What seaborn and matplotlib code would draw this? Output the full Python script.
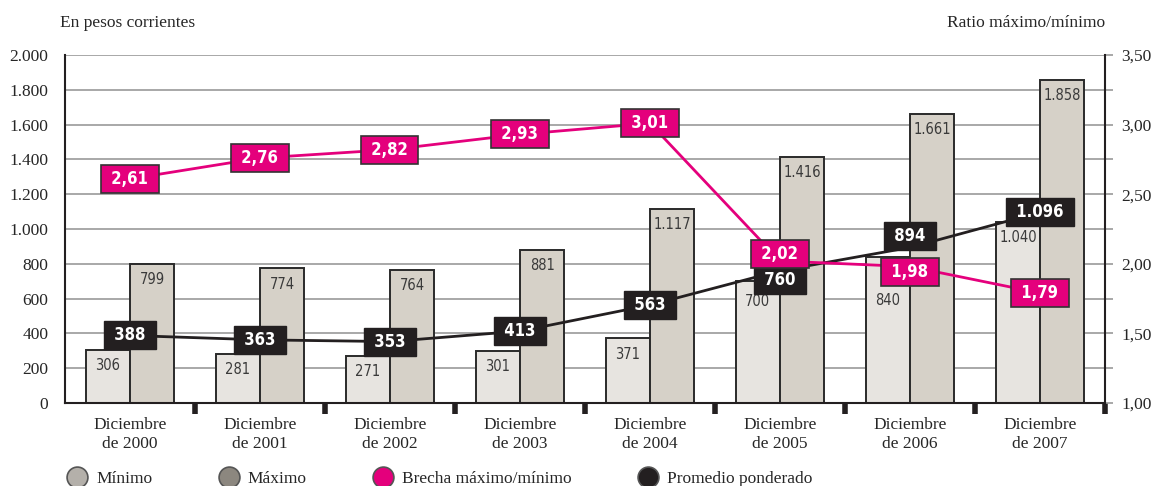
import numpy as np
import pandas as pd
import matplotlib.pyplot as plt
import seaborn as sns
from matplotlib.lines import Line2D

# data
years = ['2000', '2001', '2002', '2003', '2004', '2005', '2006', '2007']
minimo = [306, 281, 271, 301, 371, 700, 840, 1040]
maximo = [799, 774, 764, 881, 1117, 1416, 1661, 1858]
promedio = [388, 363, 353, 413, 563, 760, 894, 1096]
brecha = [2.61, 2.76, 2.82, 2.93, 3.01, 2.02, 1.98, 1.79]

cat_labels = [f'Diciembre\nde {y}' for y in years]

def miles(v):
    return f'{v:,}'.replace(',', '.')

def coma(v):
    return f'{v:.2f}'.replace('.', ',')

df = pd.DataFrame({
    'anio': years * 2,
    'valor': minimo + maximo,
    'serie': ['Mínimo'] * 8 + ['Máximo'] * 8,
})

sns.set_theme(style='white')
plt.rcParams['font.family'] = ['Liberation Serif', 'DejaVu Serif']
narrow = dict(family='DejaVu Sans', fontstretch='condensed')

c_min, c_max = '#e8e4df', '#d8d1c6'
c_pink, c_black = '#e4007c', '#231f20'
edge = '#2a2a2a'

fig = plt.figure(figsize=(11.56, 4.86), dpi=100)
ax = fig.add_axes([0.0562, 0.1708, 0.8997, 0.716])

sns.barplot(data=df, x='anio', y='valor', hue='serie', ax=ax,
            palette=[c_min, c_max], width=0.68, edgecolor=edge,
            linewidth=1.4, legend=False, zorder=2)

# value labels inside bars (the 2006 minimum sits lower to clear the ratio box)
drop_min = [0, 0, 0, 0, 0, 3, 20, 0]
drop_max = [0] * 8
for cont, vals, drops in zip(ax.containers, [minimo, maximo], [drop_min, drop_max]):
    for bar, v, d in zip(cont.patches, vals, drops):
        ax.annotate(miles(v), (bar.get_x() + bar.get_width() / 2, bar.get_height()),
                    xytext=(0, -6 - d), textcoords='offset points', ha='center', va='top',
                    fontsize=10.5, color='#3a3a3a', zorder=3, **narrow)

x = np.arange(len(years))
ax.set_xlim(-0.5, 7.5)
ax.set_ylim(0, 2000)
ax.set_yticks(np.arange(0, 2001, 200))
ax.set_yticklabels([miles(v) for v in range(0, 2001, 200)], fontsize=12.5)
ax.set_axisbelow(True)
ax.grid(axis='y', color='#9a9a9a', linewidth=1.2, zorder=0)
ax.set_xlabel('')
ax.set_ylabel('')
ax.set_xticks(x)
ax.set_xticklabels(cat_labels, fontsize=12.5, linespacing=1.25)
ax.set_xticks(np.arange(0.5, 8, 1), minor=True)
ax.tick_params(axis='x', which='major', length=0, pad=10)
ax.tick_params(axis='x', which='minor', length=8, width=4, color=c_black, direction='out', bottom=True)
ax.tick_params(axis='y', length=0, pad=12)
for s in ['left', 'bottom', 'right', 'top']:
    ax.spines[s].set_color(c_black)
    ax.spines[s].set_linewidth(1.5)
ax.spines['top'].set_visible(False)
ax.spines['right'].set_visible(False)

# weighted average line (left axis)
sns.lineplot(x=x, y=promedio, ax=ax, color=c_black, linewidth=2, zorder=4)
off_black = [0, 0, 0, 0, 0, -7, 8, 0]
for xi, v, o in zip(x, promedio, off_black):
    ax.annotate(f' {miles(v)} ', (xi, v), xytext=(0, o), textcoords='offset points',
                ha='center', va='center', color='white', fontsize=12, fontweight='bold',
                zorder=5, bbox=dict(boxstyle='square,pad=0.3', fc=c_black, ec=c_black, lw=1),
                **narrow)

# ratio line (right axis)
ax2 = ax.twinx()
sns.lineplot(x=x, y=brecha, ax=ax2, color=c_pink, linewidth=2, zorder=4)
ax2.set_ylim(1.0, 3.5)
ax2.set_yticks(np.arange(1.0, 3.51, 0.5))
ax2.set_yticklabels([coma(v) for v in np.arange(1.0, 3.51, 0.5)], fontsize=12.5)
ax2.set_yticks(np.arange(1.0, 3.51, 0.25), minor=True)
ax2.tick_params(axis='y', which='both', length=6, width=1.2, color='#9a9a9a', pad=6)
ax2.set_ylabel('')
ax2.grid(False)
for s in ['left', 'bottom', 'top']:
    ax2.spines[s].set_visible(False)
ax2.spines['right'].set_color(c_black)
ax2.spines['right'].set_linewidth(1.5)
off_pink = [0, 0, 0, 0, 0, 5, -4, 0]
for xi, v, o in zip(x, brecha, off_pink):
    ax2.annotate(f' {coma(v)} ', (xi, v), xytext=(0, o), textcoords='offset points',
                 ha='center', va='center', color='white', fontsize=12, fontweight='bold',
                 zorder=5, bbox=dict(boxstyle='square,pad=0.3', fc=c_pink, ec='#333333', lw=1.2),
                 **narrow)

fig.text(0.052, 0.945, 'En pesos corrientes', fontsize=12.5, ha='left')
fig.text(0.956, 0.945, 'Ratio máximo/mínimo', fontsize=12.5, ha='right')

handles = [
    Line2D([], [], ls='', marker='o', ms=15, mfc='#b4b0aa', mec='#555555', mew=1.2),
    Line2D([], [], ls='', marker='o', ms=15, mfc='#8c877f', mec='#555555', mew=1.2),
    Line2D([], [], ls='', marker='o', ms=15, mfc=c_pink, mec='#555555', mew=1.2),
    Line2D([], [], ls='', marker='o', ms=15, mfc=c_black, mec='#555555', mew=1.2),
]
fig.legend(handles, ['Mínimo', 'Máximo', 'Brecha máximo/mínimo', 'Promedio ponderado'],
           loc='lower left', bbox_to_anchor=(0.044, -0.035), ncol=4, frameon=False,
           fontsize=12.5, handletextpad=0.5, columnspacing=3.8, handlelength=1.2)

plt.savefig('out.png', dpi=100)
